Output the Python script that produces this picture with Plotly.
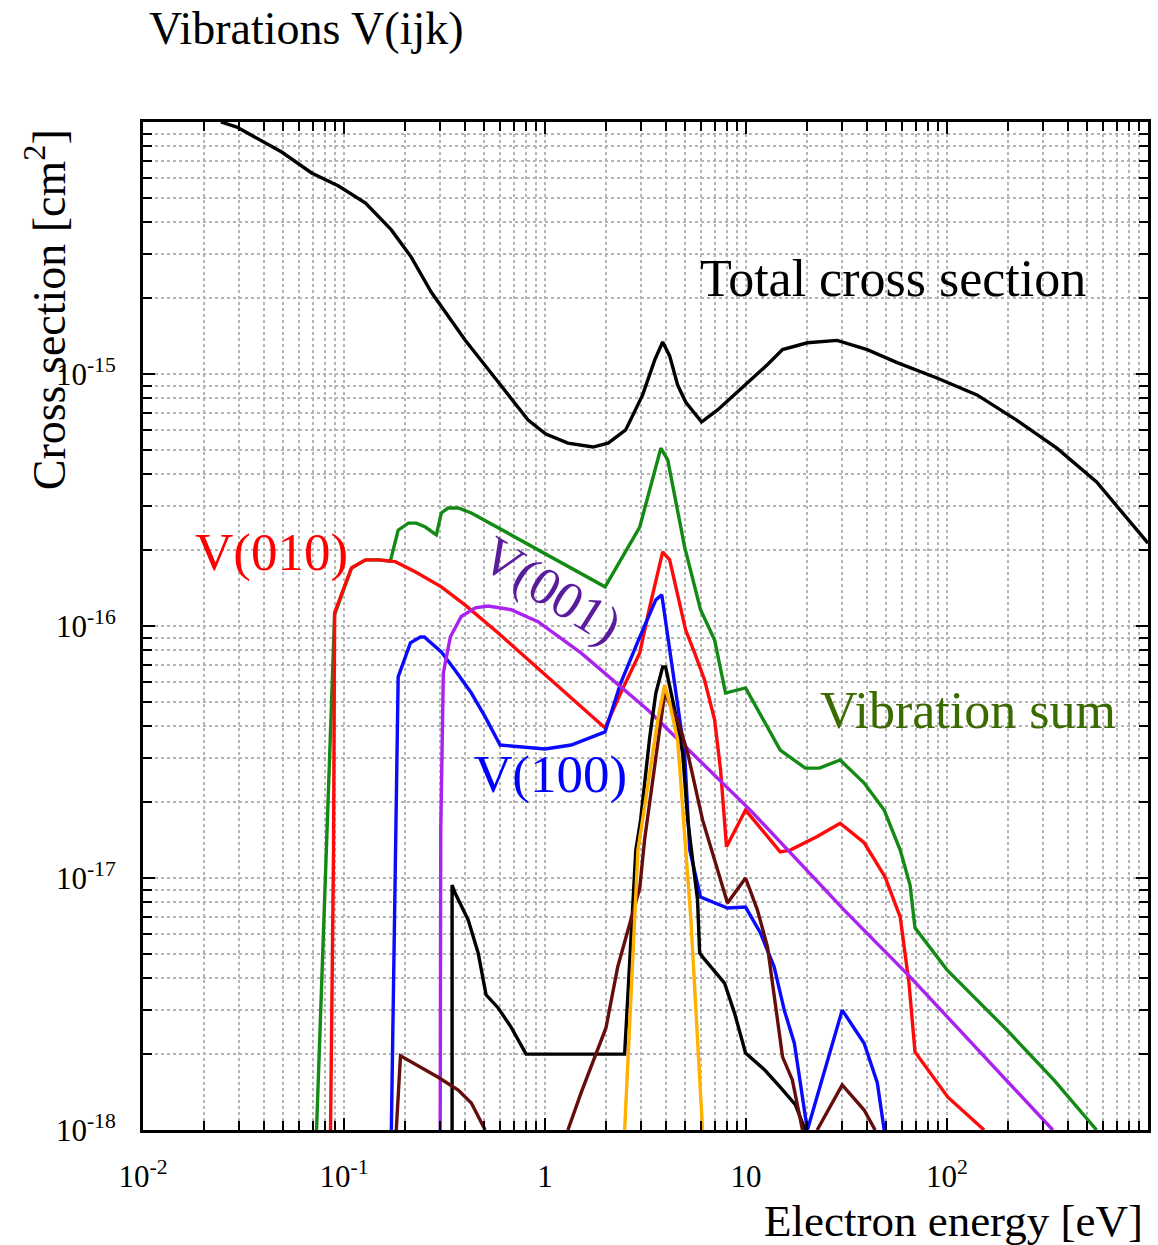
import plotly.graph_objects as go

# ---------------- data ----------------
total_E = [0.0244, 0.0293, 0.049, 0.069, 0.094, 0.128, 0.172, 0.216, 0.272, 0.294, 0.401, 0.585,
           0.824, 1.01, 1.30, 1.73, 2.06, 2.52, 3.06, 3.52, 3.85, 4.17, 4.57, 5.01, 6.01, 7.22,
           10.2, 12.8, 15.2, 20.2, 28.4, 40.1, 56.5, 89.1, 141, 222, 352, 555, 1000]
total_xs = [1.0e-14, 9.55e-15, 7.60e-15, 6.28e-15, 5.57e-15, 4.77e-15, 3.73e-15, 2.91e-15, 2.11e-15,
            1.93e-15, 1.36e-15, 9.29e-16, 6.56e-16, 5.78e-16, 5.32e-16, 5.13e-16, 5.32e-16, 6.00e-16,
            8.26e-16, 1.14e-15, 1.34e-15, 1.18e-15, 9.04e-16, 7.74e-16, 6.45e-16, 7.20e-16, 9.21e-16,
            1.09e-15, 1.25e-15, 1.33e-15, 1.36e-15, 1.25e-15, 1.11e-15, 9.64e-16, 8.26e-16, 6.56e-16,
            5.08e-16, 3.73e-16, 2.13e-16]

sum_E = [0.0730, 0.0818, 0.0867, 0.0898, 0.109, 0.128, 0.148, 0.170, 0.186, 0.209, 0.229, 0.254,
         0.288, 0.305, 0.330, 0.370, 0.430, 1.99, 2.96, 3.77, 4.08, 4.95, 5.94, 6.98, 7.91, 9.95,
         14.8, 19.7, 23.2, 29.4, 38.7, 48.7, 58.5, 65.5, 69.3, 100, 199, 340, 555]
sum_xs = [1.0e-18, 1.29e-17, 5.08e-17, 1.11e-16, 1.70e-16, 1.83e-16, 1.83e-16, 1.81e-16, 2.40e-16,
          2.56e-16, 2.56e-16, 2.47e-16, 2.30e-16, 2.81e-16, 2.94e-16, 2.94e-16, 2.81e-16, 1.43e-16,
          2.47e-16, 5.08e-16, 4.56e-16, 2.06e-16, 1.16e-16, 8.80e-17, 5.42e-17, 5.68e-17, 3.22e-17,
          2.73e-17, 2.73e-17, 2.94e-17, 2.38e-17, 1.86e-17, 1.29e-17, 9.38e-18, 6.34e-18, 4.32e-18,
          2.49e-18, 1.58e-18, 1.0e-18]

v010_E = [0.0857, 0.0887, 0.0898, 0.109, 0.128, 0.148, 0.180, 0.226, 0.305, 0.401, 0.585, 1.035,
          1.99, 2.38, 2.96, 3.32, 3.85, 4.17, 5.01, 5.55, 6.22, 6.98, 7.47, 8.00, 9.95, 14.8, 16.6,
          22.6, 29.4, 38.7, 49.2, 58.5, 64.7, 69.3, 101, 153]
v010_xs = [1.0e-18, 1.29e-17, 1.13e-16, 1.70e-16, 1.83e-16, 1.83e-16, 1.80e-16, 1.64e-16, 1.43e-16,
           1.21e-16, 9.38e-17, 6.28e-17, 3.94e-17, 5.42e-17, 7.82e-17, 1.19e-16, 1.97e-16, 1.83e-16,
           9.64e-17, 7.82e-17, 6.11e-17, 4.24e-17, 2.69e-17, 1.33e-17, 1.86e-17, 1.27e-17, 1.29e-17,
           1.46e-17, 1.65e-17, 1.38e-17, 1.01e-17, 7.00e-18, 3.83e-18, 2.04e-18, 1.35e-18, 1.0e-18]

v100_E = [0.172, 0.186, 0.214, 0.240, 0.251, 0.305, 0.357, 0.430, 0.504, 0.598, 1.00, 1.35, 1.99,
          2.38, 2.96, 3.56, 3.81, 4.08, 4.57, 4.95, 5.25, 5.94, 8.09, 9.95, 11.8, 13.8, 15.5, 17.4,
          20.2, 30.1, 38.7, 45.0, 48.7]
v100_xs = [1.0e-18, 6.28e-17, 8.57e-17, 9.04e-17, 9.04e-17, 7.89e-17, 6.68e-17, 5.42e-17, 4.36e-17,
           3.37e-17, 3.25e-17, 3.37e-17, 3.80e-17, 5.94e-17, 9.04e-17, 1.27e-16, 1.33e-16, 9.04e-17,
           4.94e-17, 3.13e-17, 1.29e-17, 8.41e-18, 7.60e-18, 7.67e-18, 6.05e-18, 4.44e-18, 2.99e-18,
           2.21e-18, 1.0e-18, 2.99e-18, 2.21e-18, 1.54e-18, 1.0e-18]

v001_E = [0.301, 0.303, 0.312, 0.338, 0.383, 0.450, 0.521, 0.678, 0.923, 1.51, 3.24, 10.5, 30.8,
          65.5, 336]
v001_xs = [1.0e-18, 1.55e-17, 6.50e-17, 9.04e-17, 1.09e-16, 1.18e-16, 1.20e-16, 1.16e-16, 1.04e-16,
           7.82e-17, 4.65e-17, 1.86e-17, 7.46e-18, 4.05e-18, 1.0e-18]

other_E = [0.345, 0.345, 0.357, 0.415, 0.465, 0.509, 0.585, 0.678, 0.805, 2.49, 2.83, 2.99, 3.32,
           3.56, 3.85, 3.98, 4.42, 4.84, 5.13, 5.74, 5.88, 6.08, 7.82, 8.77, 9.95, 12.4, 14.8, 17.6,
           19.7]
other_xs = [1.0e-18, 9.38e-18, 8.71e-18, 6.81e-18, 5.04e-18, 3.44e-18, 3.05e-18, 2.56e-18, 2.00e-18,
            2.00e-18, 1.29e-17, 1.70e-17, 3.63e-17, 5.42e-17, 6.88e-17, 6.88e-17, 4.65e-17, 3.13e-17,
            1.70e-17, 8.18e-18, 5.04e-18, 4.86e-18, 3.83e-18, 2.91e-18, 2.02e-18, 1.73e-18, 1.48e-18,
            1.26e-18, 1.0e-18]

orange_E = [2.49, 2.90, 3.64, 3.94, 4.17, 4.57, 5.31, 6.08]
orange_xs = [1.0e-18, 1.29e-17, 4.24e-17, 5.83e-17, 4.94e-17, 3.53e-17, 7.00e-18, 1.0e-18]

brown_E = [0.182, 0.191, 0.294, 0.370, 0.430, 0.504, None,
           1.30, 1.51, 1.77, 2.01, 2.30, 2.64, 2.96, 3.13, 3.94, 4.57, 5.13, 6.08, 8.09, 9.95, 11.4,
           12.8, 14.3, 15.2, 17.0, 19.1, None,
           22.6, 30.1, 38.7, 43.9]
brown_xs = [1.0e-18, 1.97e-18, 1.62e-18, 1.44e-18, 1.28e-18, 1.0e-18, None,
            1.0e-18, 1.40e-18, 1.95e-18, 2.54e-18, 4.44e-18, 6.62e-18, 9.12e-18, 1.42e-17, 5.42e-17,
            4.24e-17, 3.13e-17, 1.70e-17, 7.96e-18, 1.00e-17, 7.46e-18, 5.32e-18, 2.81e-18, 1.95e-18,
            1.58e-18, 1.0e-18, None,
            1.0e-18, 1.51e-18, 1.20e-18, 1.0e-18]

x_tickvals = [0.01, 0.1, 1, 10, 100]
x_ticktext = ["10<sup>-2</sup>", "10<sup>-1</sup>", "1", "10", "10<sup>2</sup>"]
y_tickvals = [1e-18, 1e-17, 1e-16, 1e-15]
y_ticktext = ["10<sup>-18</sup>", "10<sup>-17</sup>", "10<sup>-16</sup>", "10<sup>-15</sup>"]
minor_mult = [2, 3, 4, 5, 6, 7, 8, 9]
x_decades = [0.01, 0.1, 1, 10, 100]
y_decades = [1e-18, 1e-17, 1e-16, 1e-15]

# ---------------- figure ----------------
FONT = "Liberation Serif, Times New Roman, serif"
fig = go.Figure()

def add(E, xs, color, w=3.4):
    fig.add_trace(go.Scatter(x=E, y=xs, mode="lines", connectgaps=False,
                             line=dict(color=color, width=w), showlegend=False,
                             hoverinfo="skip"))

add(total_E, total_xs, "#000000")
add(sum_E, sum_xs, "#138a13")
add(v010_E, v010_xs, "#ff0a0a")
add(v100_E, v100_xs, "#0a0aff")
add(v001_E, v001_xs, "#aa22ee")
add(other_E, other_xs, "#000000")
add(brown_E, brown_xs, "#650d0d")
add(orange_E, orange_xs, "#ffb000")

x_minor = [m * d for d in x_decades for m in minor_mult]
y_minor = [m * d for d in y_decades for m in minor_mult]

grid = dict(showgrid=True, gridcolor="#b4b4b4", griddash="dot", gridwidth=2)

fig.update_xaxes(type="log", range=[-2, 3], tickvals=x_tickvals, ticktext=x_ticktext,
                 ticks="inside", ticklen=12, tickwidth=2, tickcolor="black",
                 showline=True, linecolor="black", linewidth=3, mirror="ticks",
                 tickfont=dict(family=FONT, size=31, color="black"),
                 ticklabelstandoff=17, zeroline=False,
                 minor=dict(tickvals=x_minor, ticks="inside", ticklen=9, tickwidth=2,
                            tickcolor="black", **grid),
                 **grid)
fig.update_yaxes(type="log", range=[-18, -14], tickvals=y_tickvals, ticktext=y_ticktext,
                 ticks="inside", ticklen=12, tickwidth=2, tickcolor="black",
                 showline=True, linecolor="black", linewidth=3, mirror="ticks",
                 tickfont=dict(family=FONT, size=31, color="black"),
                 ticklabelstandoff=18, zeroline=False,
                 minor=dict(tickvals=y_minor, ticks="inside", ticklen=9, tickwidth=2,
                            tickcolor="black", **grid),
                 **grid)

def ann(text, x, y, size, color="black", xanchor="left", angle=0):
    fig.add_annotation(text=text, x=x, y=y, xref="paper", yref="paper",
                       xanchor=xanchor, yanchor="middle", showarrow=False,
                       textangle=angle, font=dict(family=FONT, size=size, color=color))

ann("Vibrations V(ijk)", 0.004, 1.093, 46)
ann("Cross section [cm<sup>2</sup>]", -0.0972, 0.8135, 46, xanchor="center", angle=-90)
ann("Electron energy [eV]", 0.997, -0.0905, 45, xanchor="right")
ann("Total cross section", 0.5526, 0.845, 52)
ann("Vibration sum", 0.6716, 0.4157, 52, color="#3b6a00")
ann("V(010)", 0.0496, 0.5734, 53, color="#ff0000")
ann("V(100)", 0.327, 0.353, 53, color="#0000ff")
ann("V(001)", 0.4067, 0.5357, 53, color="#5a1c9c", xanchor="center", angle=32)

fig.update_layout(width=1158, height=1245, paper_bgcolor="white", plot_bgcolor="white",
                  margin=dict(l=143, r=7, t=122, b=115),
                  font=dict(family=FONT, color="black"))

fig.write_html("out.html")
